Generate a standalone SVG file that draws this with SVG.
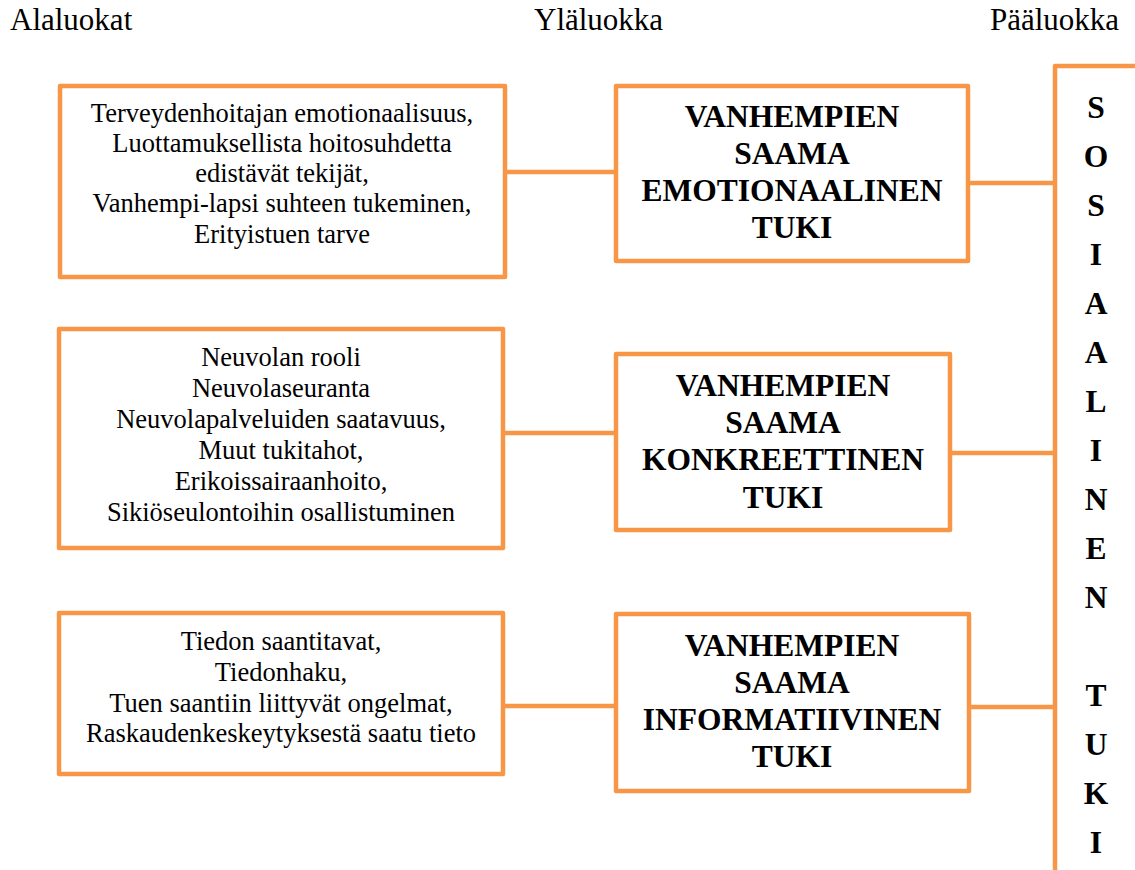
<svg xmlns="http://www.w3.org/2000/svg" width="1135" height="870" viewBox="0 0 1135 870">
<style>
.box{fill:#ffffff;stroke:#F79646;stroke-width:4.5;stroke-linejoin:round}
.con{stroke:#F79646;stroke-width:4.5;fill:none}
text{font-family:'Liberation Serif',serif;fill:#000}
.hdr{font-size:31px}
.sub{font-size:26.5px;text-anchor:middle}
.cat{font-size:31.5px;font-weight:bold;text-anchor:middle}
.vert{font-size:31.5px;font-weight:bold;text-anchor:middle}
</style>
<rect width="1135" height="870" fill="#ffffff"/>
<g id="headers" font-family="Liberation Serif, serif">
<text class="hdr" x="10" y="30">Alaluokat</text>
<text class="hdr" x="534" y="30">Yläluokka</text>
<text class="hdr" x="990" y="30">Pääluokka</text>
</g>
<g id="connectors">
<line class="con" x1="505" y1="172" x2="616" y2="172"/>
<line class="con" x1="968" y1="183" x2="1055" y2="183"/>
<line class="con" x1="503" y1="433" x2="616" y2="433"/>
<line class="con" x1="950" y1="453" x2="1055" y2="453"/>
<line class="con" x1="503" y1="706" x2="616" y2="706"/>
<line class="con" x1="969" y1="707" x2="1055" y2="707"/>
</g>
<g id="sub1" font-family="Liberation Serif, serif">
<rect class="box" x="60" y="86" width="445" height="191"/>
<text class="sub" x="282" y="122">Terveydenhoitajan emotionaalisuus,</text>
<text class="sub" x="282" y="152">Luottamuksellista hoitosuhdetta</text>
<text class="sub" x="282" y="182">edistävät tekijät,</text>
<text class="sub" x="282" y="212">Vanhempi-lapsi suhteen tukeminen,</text>
<text class="sub" x="282" y="243">Erityistuen tarve</text>
</g>
<g id="sub2" font-family="Liberation Serif, serif">
<rect class="box" x="59" y="329" width="444" height="219"/>
<text class="sub" x="281" y="366">Neuvolan rooli</text>
<text class="sub" x="281" y="397">Neuvolaseuranta</text>
<text class="sub" x="281" y="428">Neuvolapalveluiden saatavuus,</text>
<text class="sub" x="281" y="459">Muut tukitahot,</text>
<text class="sub" x="281" y="490">Erikoissairaanhoito,</text>
<text class="sub" x="281" y="521">Sikiöseulontoihin osallistuminen</text>
</g>
<g id="sub3" font-family="Liberation Serif, serif">
<rect class="box" x="59" y="613" width="444" height="161"/>
<text class="sub" x="281" y="650">Tiedon saantitavat,</text>
<text class="sub" x="281" y="681">Tiedonhaku,</text>
<text class="sub" x="281" y="712">Tuen saantiin liittyvät ongelmat,</text>
<text class="sub" x="281" y="742">Raskaudenkeskeytyksestä saatu tieto</text>
</g>
<g id="cat1" font-family="Liberation Serif, serif">
<rect class="box" x="616" y="86" width="352" height="175"/>
<text class="cat" x="792" y="127">VANHEMPIEN</text>
<text class="cat" x="792" y="164">SAAMA</text>
<text class="cat" x="792" y="201">EMOTIONAALINEN</text>
<text class="cat" x="792" y="238">TUKI</text>
</g>
<g id="cat2" font-family="Liberation Serif, serif">
<rect class="box" x="616" y="354" width="334" height="176"/>
<text class="cat" x="783" y="396">VANHEMPIEN</text>
<text class="cat" x="783" y="433">SAAMA</text>
<text class="cat" x="783" y="470">KONKREETTINEN</text>
<text class="cat" x="783" y="508">TUKI</text>
</g>
<g id="cat3" font-family="Liberation Serif, serif">
<rect class="box" x="616" y="614" width="353" height="177"/>
<text class="cat" x="792" y="656">VANHEMPIEN</text>
<text class="cat" x="792" y="693">SAAMA</text>
<text class="cat" x="792" y="730">INFORMATIIVINEN</text>
<text class="cat" x="792" y="767">TUKI</text>
</g>
<g id="main" font-family="Liberation Serif, serif">
<rect class="box" x="1055" y="66" width="100" height="830"/>
<text class="vert" x="1096" y="118">S</text>
<text class="vert" x="1096" y="167">O</text>
<text class="vert" x="1096" y="216">S</text>
<text class="vert" x="1096" y="265">I</text>
<text class="vert" x="1096" y="314">A</text>
<text class="vert" x="1096" y="363">A</text>
<text class="vert" x="1096" y="412">L</text>
<text class="vert" x="1096" y="461">I</text>
<text class="vert" x="1096" y="510">N</text>
<text class="vert" x="1096" y="559">E</text>
<text class="vert" x="1096" y="608">N</text>
<text class="vert" x="1096" y="706">T</text>
<text class="vert" x="1096" y="755">U</text>
<text class="vert" x="1096" y="804">K</text>
<text class="vert" x="1096" y="853">I</text>
</g>
</svg>
